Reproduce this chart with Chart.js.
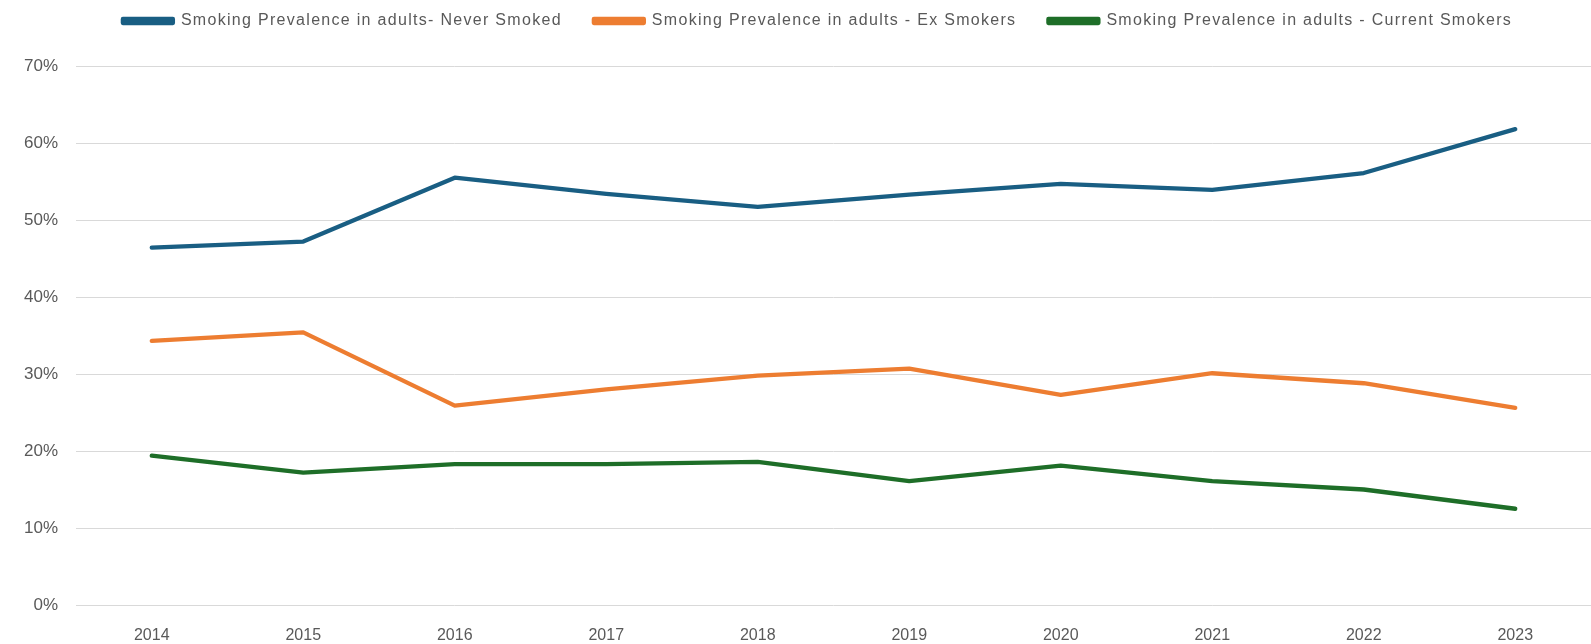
<!DOCTYPE html>
<html>
<head>
<meta charset="utf-8">
<script src="https://cdn.jsdelivr.net/npm/chart.js@4/dist/chart.umd.min.js"></script>
<style>
  html, body { margin: 0; padding: 0; background: #fff; }
  #wrap { width: 1591px; height: 644px; position: relative; }
</style>
</head>
<body>
<div id="wrap"><canvas id="smokingChart"></canvas></div>
<script>
// jaren op de x-as
const years = ['2014', '2015', '2016', '2017', '2018', '2019', '2020', '2021', '2022', '2023'];

// percentages
const neverSmoked = [46.4, 47.2, 55.5, 53.4, 51.7, 53.3, 54.7, 53.9, 56.1, 61.8];
const exSmokers = [34.3, 35.4, 25.9, 28.0, 29.8, 30.7, 27.3, 30.1, 28.8, 25.6];
const currentSmokers = [19.4, 17.2, 18.3, 18.3, 18.6, 16.1, 18.1, 16.1, 15.0, 12.5];

const seriesLabels = [
    'Smoking Prevalence in adults- Never Smoked',
    'Smoking Prevalence in adults - Ex Smokers',
    'Smoking Prevalence in adults - Current Smokers',
];

const textColor = '#595959';
const gridColor = '#d9d9d9';
const fontFamily = "'Liberation Sans', Arial, sans-serif";

function makeDataset(label, data, color) {
    return {
        label: label,
        data: data,
        borderColor: color,
        backgroundColor: color,
        borderWidth: 4.3,
        pointRadius: 0,
        tension: 0,
        borderCapStyle: 'round',
        borderJoinStyle: 'round',
    };
}

// legenda: wat extra letterafstand, iets naar rechts, vaste hoogte boven het plotgebied
const legendTweak = {
    id: 'legendTweak',
    beforeInit(chart) {
        const legend = chart.legend;
        const fit = legend.fit.bind(legend);
        const draw = legend.draw.bind(legend);
        legend.fit = function () {
            chart.ctx.letterSpacing = '1.3px';
            fit();
            chart.ctx.letterSpacing = '0px';
            this.height = 88;
        };
        legend.draw = function () {
            const c = chart.ctx;
            c.save();
            c.translate(22, 3);
            c.letterSpacing = '1.3px';
            draw();
            c.restore();
            c.letterSpacing = '0px';
        };
    },
};

const ctx = document.getElementById('smokingChart').getContext('2d');

new Chart(ctx, {
    type: 'line',
    data: {
        labels: years,
        datasets: [
            makeDataset(seriesLabels[0], neverSmoked, '#195e83'),
            makeDataset(seriesLabels[1], exSmokers, '#ed7d31'),
            makeDataset(seriesLabels[2], currentSmokers, '#1e6e28'),
        ],
    },
    options: {
        responsive: true,
        maintainAspectRatio: false,
        animation: false,
        layout: { padding: { top: -22, left: 0, right: 0, bottom: 0 } },
        plugins: {
            legend: {
                position: 'top',
                labels: {
                    boxWidth: 50,
                    boxHeight: 4,
                    padding: 32,
                    color: textColor,
                    font: { family: fontFamily, size: 16 },
                },
            },
            tooltip: { enabled: false },
        },
        scales: {
            x: {
                offset: true,
                grid: { display: false, drawTicks: false },
                border: { display: false },
                ticks: {
                    color: textColor,
                    padding: 21,
                    font: { family: fontFamily, size: 16 },
                },
                afterFit: scale => { scale.height = 39; },
            },
            y: {
                min: 0,
                max: 70,
                grid: { color: gridColor, lineWidth: 1, drawTicks: false },
                border: { display: false },
                ticks: {
                    stepSize: 10,
                    color: textColor,
                    padding: 18,
                    font: { family: fontFamily, size: 17 },
                    callback: value => value + '%',
                },
                afterFit: scale => { scale.width = 76; },
            },
        },
    },
    plugins: [legendTweak],
});
</script>
</body>
</html>
